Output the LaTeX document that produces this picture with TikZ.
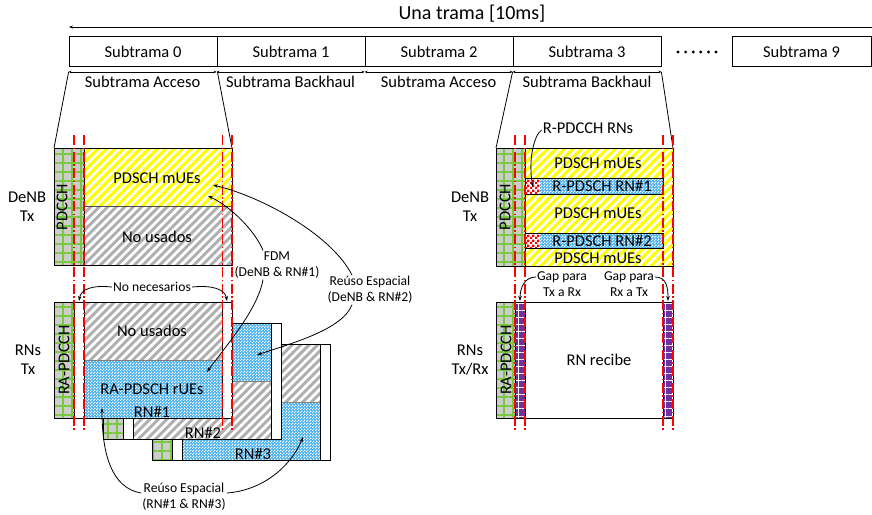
\documentclass[tikz,border=0pt]{standalone}
\usepackage{fontspec}
\setmainfont{Carlito}
\usetikzlibrary{arrows.meta, patterns, patterns.meta}

\definecolor{yelc}{RGB}{255,255,0}
\definecolor{grayc}{RGB}{175,175,175}
\definecolor{bluec}{RGB}{70,175,240}
\definecolor{grnc}{RGB}{120,200,60}
\definecolor{pdbg}{RGB}{205,205,205}
\definecolor{purc}{RGB}{112,48,160}

\newcommand\fhuge{\fontsize{20}{23}\selectfont}
\newcommand\fbig{\fontsize{16.5}{19}\selectfont}
\newcommand\fsm{\fontsize{13.6}{16}\selectfont}

\pgfdeclarepatternformonly{finecheck}{\pgfpointorigin}{\pgfqpoint{3pt}{3pt}}{\pgfqpoint{3pt}{3pt}}{%
  \pgfpathrectangle{\pgfpointorigin}{\pgfqpoint{1.5pt}{1.5pt}}%
  \pgfpathrectangle{\pgfqpoint{1.5pt}{1.5pt}}{\pgfqpoint{1.5pt}{1.5pt}}%
  \pgfusepath{fill}}
\pgfdeclarepatternformonly{bigcheck}{\pgfpointorigin}{\pgfqpoint{5pt}{5pt}}{\pgfqpoint{5pt}{5pt}}{%
  \pgfpathrectangle{\pgfpointorigin}{\pgfqpoint{2.5pt}{2.5pt}}%
  \pgfpathrectangle{\pgfqpoint{2.5pt}{2.5pt}}{\pgfqpoint{2.5pt}{2.5pt}}%
  \pgfusepath{fill}}

\tikzset{
  sfbox/.style  = {draw, line width=0.8pt, minimum width=148pt,
                   minimum height=30pt, inner sep=0pt, font=\fbig},
  yelpat/.style = {fill=yelc, postaction={pattern={Lines[angle=45,distance=6pt,line width=2.6pt]},
                   pattern color=white}},
  graypat/.style= {fill=grayc, postaction={pattern={Lines[angle=45,distance=6pt,line width=2.8pt]},
                   pattern color=white}},
  bluepat/.style= {fill=bluec, postaction={pattern=finecheck, pattern color=white}},
  redpat/.style = {fill=white, postaction={pattern=bigcheck, pattern color=red}},
  pdcchpat/.style={fill=pdbg, postaction={pattern={Hatch[angle=0,distance=9pt,line width=1.3pt]},
                   pattern color=grnc}},
  purpat/.style = {fill=purc, postaction={pattern={Hatch[angle=0,distance=7pt,line width=1pt]},
                   pattern color=white}},
  outl/.style   = {draw, line width=0.8pt},
  redln/.style  = {red, line width=1.1pt, dash pattern=on 10pt off 2.5pt on 1.5pt off 2.5pt},
  larr/.style   = {-{Stealth[length=4pt,width=3pt]}, line width=0.8pt},
  dbl/.style    = {{Stealth[length=3pt,width=2.5pt]}-{Stealth[length=3pt,width=2.5pt]}, line width=0.7pt},
  arr/.style    = {-{Stealth[length=5pt,width=3.5pt]}, line width=0.8pt},
  lbl/.style    = {font=\fsm, align=center, inner sep=1pt},
}

\begin{document}
\begin{tikzpicture}[x=1pt, y=-1pt, font=\fbig]
  \useasboundingbox (0,0) rectangle (872,514);

  % frame with subframes
  \node[font=\fhuge] (trama) at (472,14) {Una trama [10ms]};
  \coordinate (trL) at (69,27);
  \coordinate (trR) at (872,27);
  \draw[larr] (trR) -- (trL);
  \node[sfbox] (sf0) at (143,51.5) {Subtrama 0};
  \node[sfbox] (sf1) at (291,51.5) {Subtrama 1};
  \node[sfbox] (sf2) at (439,51.5) {Subtrama 2};
  \node[sfbox] (sf3) at (587,51.5) {Subtrama 3};
  \node[sfbox, minimum width=139pt] (sf9) at (801.5,51.5) {Subtrama 9};
  \foreach \i in {0,...,5}
    \fill (678+7.6*\i,52) circle (1.6);

  % access / backhaul
  \coordinate (a0) at ([yshift=-5pt]sf0.south west);
  \coordinate (a1) at ([yshift=-5pt]sf1.south west);
  \coordinate (a2) at ([yshift=-5pt]sf2.south west);
  \coordinate (a3) at ([yshift=-5pt]sf3.south west);
  \coordinate (a4) at ([yshift=-5pt]sf3.south east);
  \draw[dbl] (a0) -- (a1) node[midway,yshift=-10pt] (acc0) {Subtrama Acceso};
  \draw[dbl] (a1) -- (a2) node[midway,yshift=-10pt] (bh1) {Subtrama Backhaul};
  \draw[dbl] (a2) -- (a3) node[midway,yshift=-10pt] (acc2) {Subtrama Acceso};
  \draw[dbl] (a3) -- (a4) node[midway,yshift=-10pt] (bh3) {Subtrama Backhaul};

  \coordinate (d1tl) at (54,148);
  \coordinate (d1tr) at (232,148);
  \coordinate (d3tl) at (496,148);
  \coordinate (d3tr) at (673,148);
  \draw[line width=0.8pt] (a0) -- (d1tl);
  \draw[line width=0.8pt] ([yshift=-5pt]sf0.south east) -- (d1tr);
  \draw[line width=0.8pt] (a3) -- (d3tl);
  \draw[line width=0.8pt] (a4) -- (d3tr);

  % DeNB Tx, access subframe
  \fill[yelpat]  (84,148) rectangle (232,206);
  \fill[graypat] (84,206) rectangle (232,265);
  \fill[pdcchpat] (54,148) rectangle (84,265);
  \draw[gray!60!black, line width=0.8pt] (84,206) -- (232,206);
  \draw[outl] (54,148) rectangle (232,265);
  \draw[outl] (84,148) -- (84,265);

  % RN#3, RN#2, RN#1
  \fill[pdcchpat] (152,344) rectangle (172,460);
  \fill[graypat] (182,344) rectangle (320,402);
  \fill[bluepat] (182,402) rectangle (320,460);
  \draw[gray, line width=0.6pt] (182,402) -- (320,402);
  \draw[outl] (152,344) rectangle (330,460);
  \draw[outl] (172,344) -- (172,460) (182,344) -- (182,460) (320,344) -- (320,460);

  \fill[white] (103,323) rectangle (281,439);
  \fill[pdcchpat] (103,323) rectangle (123,439);
  \fill[bluepat] (133,323) rectangle (271,381);
  \fill[graypat] (133,381) rectangle (271,439);
  \draw[gray, line width=0.6pt] (133,381) -- (271,381);
  \draw[outl] (103,323) rectangle (281,439);
  \draw[outl] (123,323) -- (123,439) (133,323) -- (133,439) (271,323) -- (271,439);

  \fill[white] (54,302) rectangle (232,418);
  \fill[pdcchpat] (54,302) rectangle (74,418);
  \fill[graypat] (84,302) rectangle (222,360);
  \fill[bluepat] (84,360) rectangle (222,418);
  \draw[gray, line width=0.6pt] (84,360) -- (222,360);
  \draw[outl] (54,302) rectangle (232,418);
  \draw[outl] (74,302) -- (74,418) (84,302) -- (84,418) (222,302) -- (222,418);

  % DeNB Tx, backhaul subframe
  \fill[yelpat] (525,148) rectangle (673,266);
  \fill[pdcchpat] (496,148) rectangle (525,266);
  \fill[redpat]  (525,178) rectangle (540,194);
  \fill[bluepat] (540,178) rectangle (663,194);
  \draw[outl] (525,178) rectangle (663,194);
  \fill[redpat]  (525,233) rectangle (540,248);
  \fill[bluepat] (540,233) rectangle (663,248);
  \draw[outl] (525,233) rectangle (663,248);
  \draw[outl] (496,148) rectangle (673,266);
  \draw[outl] (525,148) -- (525,266);

  % RNs Tx/Rx, backhaul subframe
  \fill[pdcchpat] (496,302) rectangle (515,418);
  \fill[purpat] (515,302) rectangle (525,418);
  \fill[purpat] (663,302) rectangle (673,418);
  \draw[outl] (496,302) rectangle (673,418);
  \draw[outl] (515,302) -- (515,418) (525,302) -- (525,418) (663,302) -- (663,418);

  % symbol boundaries
  \foreach \x in {74,84,222.5,232,515,525,663,673}
    \draw[redln] (\x,135) -- (\x,432);

  % texts
  \node[align=center] (denbL) at (27,207) {DeNB\\Tx};
  \node[align=center] (rnsL) at (28,360) {RNs\\Tx};
  \node[align=center] (denbR) at (470,207) {DeNB\\Tx};
  \node[align=center] (rnsR) at (470,360) {RNs\\Tx/Rx};
  \node[rotate=90] (pdcch1) at (62,207) {PDCCH};
  \node[rotate=90] (pdcch3) at (505,207) {PDCCH};
  \node[rotate=90] (rapd1) at (64,360) {RA-PDCCH};
  \node[rotate=90] (rapd3) at (506,360) {RA-PDCCH};
  \node (mue1) at (157,178) {PDSCH mUEs};
  \node (nus1) at (157,237) {No usados};
  \node (nus2) at (152,331) {No usados};
  \node (rapdsch) at (152,389) {RA-PDSCH rUEs};
  \node (rn1) at (152,412) {RN\#1};
  \node (rn2) at (203,433) {RN\#2};
  \node (rn3) at (253,454) {RN\#3};
  \node (mue3a) at (598,163) {PDSCH mUEs};
  \node (rpd1) at (602,186) {R-PDSCH RN\#1};
  \node (mue3b) at (598,213) {PDSCH mUEs};
  \node (rpd2) at (602,241) {R-PDSCH RN\#2};
  \node (mue3c) at (598,258) {PDSCH mUEs};
  \node (rnrx) at (599,360) {RN recibe};
  \node[inner sep=1pt] (rpdcch) at (588,128) {R-PDCCH RNs};

  % annotations
  \node[lbl] (fdm) at (277,265) {FDM\\(DeNB \& RN\#1)};
  \node[lbl] (reA) at (370,290) {Reúso Espacial\\(DeNB \& RN\#2)};
  \node[lbl] (reB) at (184,497) {Reúso Espacial\\(RN\#1 \& RN\#3)};
  \node[lbl] (nonec) at (152,287) {No necesarios};
  \node[lbl] (gapA) at (562,284) {Gap para\\Tx a Rx};
  \node[lbl] (gapB) at (629,284) {Gap para\\Rx a Tx};

  \coordinate (tFdmD) at (208,196);
  \coordinate (tFdmR) at (207,372);
  \coordinate (tReD) at (213,185);
  \coordinate (tReR) at (257,355);
  \coordinate (tRn1) at (102,408);
  \coordinate (tRn3) at (303,437);
  \coordinate (tNnL) at (79,301);
  \coordinate (tNnR) at (227,301);
  \coordinate (tRp) at (533,187);
  \coordinate (tGapL) at (520,301);
  \coordinate (tGapR) at (668,301);

  \draw[arr] ([xshift=-14pt]fdm.north) .. controls +(-8,-20) and +(22,10) .. (tFdmD);
  \draw[arr] ([xshift=-14pt]fdm.south) .. controls +(-5,30) and +(18,-25) .. (tFdmR);
  \draw[arr] ([xshift=-18pt]reA.north) .. controls +(-20,-40) and +(50,12) .. (tReD);
  \draw[arr] ([xshift=-18pt]reA.south) .. controls +(-10,25) and +(35,-12) .. (tReR);
  \draw[arr] ([yshift=4pt]reB.west) .. controls +(-30,-5) and +(0,45) .. (tRn1);
  \draw[arr] ([yshift=4pt]reB.east) .. controls +(40,-3) and +(-10,25) .. (tRn3);
  \draw[arr] (nonec.west) .. controls +(-20,-2) and +(2,-12) .. (tNnL);
  \draw[arr] (nonec.east) .. controls +(20,-2) and +(-2,-12) .. (tNnR);
  \draw[arr] ([yshift=-2pt]rpdcch.west) .. controls +(-8,5) and +(-5,-25) .. (tRp);
  \draw[arr] ([yshift=7pt]gapA.west) .. controls +(-12,0) and +(0,-12) .. (tGapL);
  \draw[arr] ([yshift=7pt]gapB.east) .. controls +(12,0) and +(0,-12) .. (tGapR);
\end{tikzpicture}
\end{document}
